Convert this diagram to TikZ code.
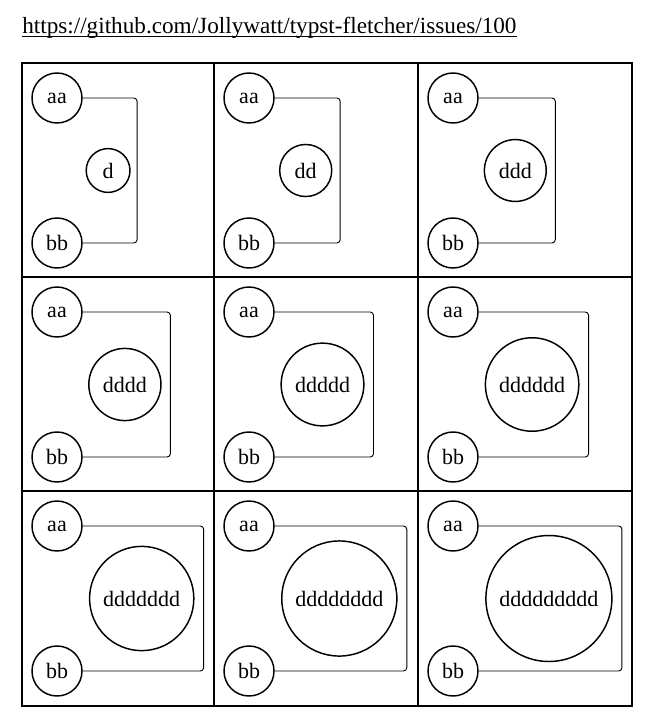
\documentclass[tikz,border=0pt]{standalone}
\usepackage{fontspec}
\setmainfont{Liberation Serif}
\usetikzlibrary{calc}

\begin{document}
\begin{tikzpicture}[x=0.75pt, y=-0.75pt,
        every node/.style={font=\fontsize{16.5}{20}\selectfont, inner sep=0pt},
        vertex/.style={draw, circle, line width=1.1pt},
        link/.style={line width=0.7pt, rounded corners=2.5pt},
        grid/.style={line width=1.4pt}]
    \useasboundingbox (0,0) rectangle (655,728);
    \node[anchor=base west, font=\fontsize{17.4}{20}\selectfont] (url) at (22,33.5) {https://github.com/Jollywatt/typst-fletcher/issues/100};
    \draw[line width=0.6pt] ([yshift=-2.2pt]url.base west) -- ([yshift=-2.2pt]url.base east);
    % table
    \draw[grid] (22,63) rectangle (632,706);
    \draw[grid] (214,63) -- (214,706) (418,63) -- (418,706);
    \draw[grid] (22,277) -- (632,277) (22,491) -- (632,491);
    % one diagram per cell
    \foreach \n/\cx/\cy/\lbl in {1/22/63/d, 2/214/63/dd, 3/418/63/ddd,
            4/22/277/dddd, 5/214/277/ddddd, 6/418/277/dddddd,
            7/22/491/ddddddd, 8/214/491/dddddddd, 9/418/491/ddddddddd} {
        \pgfmathsetmacro\dsize{1.5*(sqrt((5.5*\n)^2+49)+13)}
        \node[vertex, minimum size=37.5pt] (aa\n) at (\cx+35,\cy+35) {aa};
        \node[vertex, minimum size=37.5pt] (bb\n) at (\cx+35,\cy+180) {bb};
        \node[vertex, minimum size=\dsize pt] (d\n) at (\cx+80.5+5.6*\n,\cy+107.5) {\lbl};
        \coordinate (turn\n) at (\cx+104+11.1*\n,\cy+35);
        \draw[link] (aa\n) -- (turn\n) -- (turn\n |- bb\n) -- (bb\n);
    }
\end{tikzpicture}
\end{document}
